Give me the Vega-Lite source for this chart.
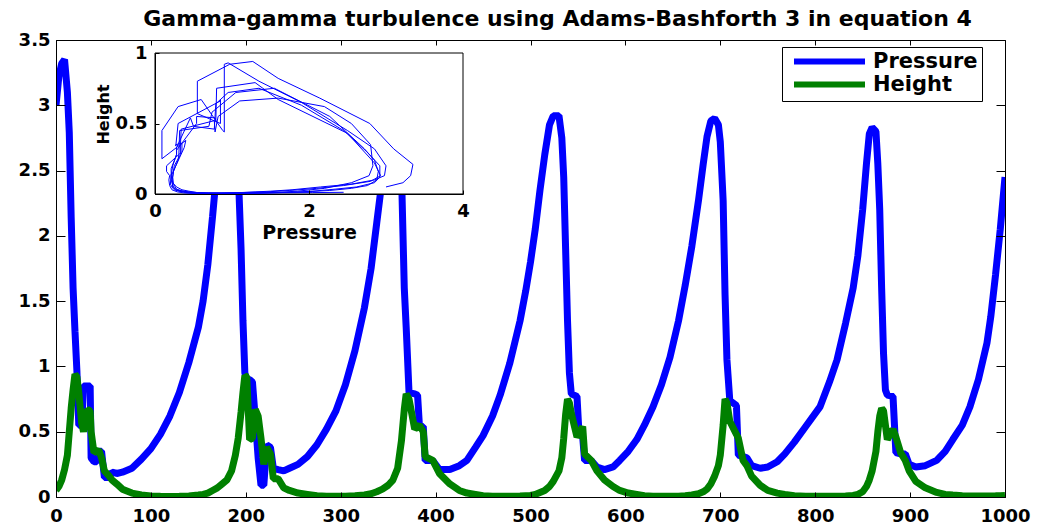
{
  "$schema": "https://vega.github.io/schema/vega-lite/v6.json",
  "width": 949,
  "height": 457,
  "autosize": "none",
  "padding": {"left": 56, "top": 40, "right": 48, "bottom": 28},
  "background": "white",
  "title": {
    "text": "Gamma-gamma turbulence using Adams-Bashforth 3 in equation 4",
    "font": "DejaVu Sans", "fontSize": 22, "fontWeight": "bold", "color": "#000",
    "anchor": "middle", "dx": 27, "dy": 29, "baseline": "alphabetic", "offset": 12
  },
  "data": {"values": [
    {"t":0,"p":3.00,"h":0.05},{"t":3,"p":3.22,"h":0.08},{"t":6,"p":3.32,"h":0.13},{"t":9,"p":3.35,"h":0.21},
    {"t":12,"p":3.10,"h":0.32},{"t":14,"p":2.79,"h":0.50},{"t":16,"p":2.14,"h":0.68},{"t":18,"p":1.60,"h":0.82},
    {"t":20,"p":1.27,"h":0.94},{"t":22,"p":0.97,"h":0.92},{"t":24,"p":0.55,"h":0.80},{"t":27,"p":0.55,"h":0.57},
    {"t":29,"p":0.85,"h":0.50},{"t":33,"p":0.85,"h":0.67},{"t":36,"p":0.85,"h":0.66},{"t":37,"p":0.30,"h":0.50},
    {"t":40,"p":0.27,"h":0.34},{"t":43,"p":0.27,"h":0.35},{"t":45,"p":0.35,"h":0.36},{"t":48,"p":0.35,"h":0.30},
    {"t":51,"p":0.15,"h":0.20},{"t":56,"p":0.15,"h":0.16},{"t":59,"p":0.19,"h":0.13},{"t":64,"p":0.18,"h":0.10},
    {"t":70,"p":0.19,"h":0.06},{"t":80,"p":0.22,"h":0.03},{"t":90,"p":0.29,"h":0.015},{"t":100,"p":0.37,"h":0.008},
    {"t":110,"p":0.48,"h":0.005},{"t":120,"p":0.62,"h":0.004},{"t":130,"p":0.80,"h":0.005},{"t":140,"p":1.03,"h":0.008},
    {"t":150,"p":1.30,"h":0.015},{"t":155,"p":1.50,"h":0.02},{"t":160,"p":1.78,"h":0.03},{"t":165,"p":2.15,"h":0.05},
    {"t":170,"p":2.55,"h":0.07},{"t":175,"p":2.85,"h":0.10},{"t":180,"p":2.98,"h":0.13},{"t":185,"p":3.00,"h":0.20},
    {"t":189,"p":2.85,"h":0.32},{"t":192,"p":2.50,"h":0.45},{"t":195,"p":1.90,"h":0.65},{"t":197,"p":1.35,"h":0.80},
    {"t":199,"p":0.95,"h":0.93},{"t":201,"p":0.90,"h":0.92},{"t":204,"p":0.90,"h":0.44},{"t":207,"p":0.88,"h":0.45},
    {"t":210,"p":0.60,"h":0.67},{"t":213,"p":0.30,"h":0.62},{"t":216,"p":0.09,"h":0.45},{"t":219,"p":0.09,"h":0.25},
    {"t":222,"p":0.40,"h":0.38},{"t":226,"p":0.38,"h":0.33},{"t":229,"p":0.22,"h":0.14},{"t":234,"p":0.21,"h":0.14},
    {"t":240,"p":0.20,"h":0.07},{"t":246,"p":0.22,"h":0.05},{"t":255,"p":0.25,"h":0.03},{"t":265,"p":0.31,"h":0.02},
    {"t":275,"p":0.40,"h":0.01},{"t":285,"p":0.52,"h":0.006},{"t":295,"p":0.66,"h":0.005},{"t":305,"p":0.86,"h":0.006},
    {"t":315,"p":1.12,"h":0.01},{"t":325,"p":1.45,"h":0.015},{"t":332,"p":1.75,"h":0.025},{"t":338,"p":2.10,"h":0.04},
    {"t":344,"p":2.45,"h":0.06},{"t":350,"p":2.80,"h":0.09},{"t":355,"p":2.93,"h":0.13},{"t":360,"p":2.85,"h":0.22},
    {"t":364,"p":2.50,"h":0.43},{"t":367,"p":1.60,"h":0.67},{"t":369,"p":1.30,"h":0.79},{"t":372,"p":0.80,"h":0.75},
    {"t":378,"p":0.79,"h":0.52},{"t":381,"p":0.78,"h":0.54},{"t":383,"p":0.54,"h":0.55},{"t":387,"p":0.54,"h":0.50},
    {"t":389,"p":0.28,"h":0.31},{"t":397,"p":0.28,"h":0.28},{"t":404,"p":0.21,"h":0.18},{"t":415,"p":0.21,"h":0.10},
    {"t":425,"p":0.24,"h":0.05},{"t":433,"p":0.28,"h":0.03},{"t":442,"p":0.38,"h":0.02},{"t":450,"p":0.47,"h":0.01},
    {"t":460,"p":0.62,"h":0.006},{"t":468,"p":0.78,"h":0.005},{"t":478,"p":1.02,"h":0.005},{"t":489,"p":1.35,"h":0.007},
    {"t":495,"p":1.58,"h":0.01},{"t":500,"p":1.80,"h":0.012},{"t":505,"p":2.05,"h":0.02},{"t":510,"p":2.35,"h":0.035},
    {"t":515,"p":2.62,"h":0.05},{"t":520,"p":2.85,"h":0.08},{"t":524,"p":2.92,"h":0.12},{"t":530,"p":2.92,"h":0.20},
    {"t":533,"p":2.75,"h":0.30},{"t":535,"p":2.45,"h":0.45},{"t":537,"p":1.90,"h":0.63},{"t":539,"p":1.35,"h":0.75},
    {"t":541,"p":0.95,"h":0.72},{"t":543,"p":0.79,"h":0.64},{"t":549,"p":0.77,"h":0.46},{"t":551,"p":0.50,"h":0.48},
    {"t":555,"p":0.46,"h":0.54},{"t":557,"p":0.28,"h":0.33},{"t":564,"p":0.28,"h":0.28},{"t":570,"p":0.23,"h":0.20},
    {"t":578,"p":0.21,"h":0.13},{"t":587,"p":0.23,"h":0.08},{"t":594,"p":0.28,"h":0.05},{"t":603,"p":0.35,"h":0.03},
    {"t":612,"p":0.44,"h":0.02},{"t":620,"p":0.55,"h":0.01},{"t":629,"p":0.69,"h":0.006},{"t":638,"p":0.86,"h":0.005},
    {"t":647,"p":1.07,"h":0.005},{"t":656,"p":1.35,"h":0.006},{"t":663,"p":1.62,"h":0.01},{"t":670,"p":1.92,"h":0.015},
    {"t":677,"p":2.27,"h":0.025},{"t":682,"p":2.55,"h":0.04},{"t":686,"p":2.76,"h":0.06},{"t":690,"p":2.88,"h":0.10},
    {"t":694,"p":2.90,"h":0.16},{"t":698,"p":2.85,"h":0.24},{"t":700,"p":2.72,"h":0.32},{"t":703,"p":2.27,"h":0.55},
    {"t":705,"p":1.55,"h":0.75},{"t":707,"p":1.05,"h":0.72},{"t":710,"p":0.74,"h":0.58},{"t":717,"p":0.70,"h":0.48},
    {"t":719,"p":0.32,"h":0.45},{"t":724,"p":0.31,"h":0.28},{"t":728,"p":0.30,"h":0.24},{"t":733,"p":0.24,"h":0.16},
    {"t":742,"p":0.22,"h":0.09},{"t":750,"p":0.23,"h":0.05},{"t":760,"p":0.27,"h":0.03},{"t":768,"p":0.33,"h":0.02},
    {"t":778,"p":0.42,"h":0.01},{"t":790,"p":0.54,"h":0.006},{"t":805,"p":0.69,"h":0.005},{"t":815,"p":0.88,"h":0.005},
    {"t":823,"p":1.05,"h":0.006},{"t":832,"p":1.33,"h":0.008},{"t":840,"p":1.60,"h":0.012},{"t":845,"p":1.85,"h":0.02},
    {"t":850,"p":2.20,"h":0.04},{"t":854,"p":2.55,"h":0.08},{"t":857,"p":2.78,"h":0.13},{"t":860,"p":2.83,"h":0.20},
    {"t":864,"p":2.80,"h":0.35},{"t":866,"p":2.55,"h":0.50},{"t":868,"p":2.20,"h":0.62},{"t":870,"p":1.60,"h":0.68},
    {"t":872,"p":1.10,"h":0.66},{"t":874,"p":0.82,"h":0.55},{"t":876,"p":0.78,"h":0.44},{"t":882,"p":0.77,"h":0.52},
    {"t":885,"p":0.34,"h":0.46},{"t":890,"p":0.33,"h":0.34},{"t":895,"p":0.33,"h":0.28},{"t":899,"p":0.25,"h":0.20},
    {"t":906,"p":0.23,"h":0.12},{"t":916,"p":0.24,"h":0.07},{"t":928,"p":0.28,"h":0.035},{"t":937,"p":0.35,"h":0.02},
    {"t":945,"p":0.44,"h":0.015},{"t":955,"p":0.55,"h":0.01},{"t":963,"p":0.69,"h":0.008},{"t":972,"p":0.90,"h":0.007},
    {"t":981,"p":1.18,"h":0.007},{"t":985,"p":1.38,"h":0.008},{"t":990,"p":1.70,"h":0.009},{"t":995,"p":2.05,"h":0.01},
    {"t":1000,"p":2.45,"h":0.012}
  ]},
  "layer": [
    {
      "mark": {"type": "line", "strokeWidth": 7, "clip": true, "strokeJoin": "bevel"},
      "encoding": {
        "x": {"field": "t", "type": "quantitative",
          "scale": {"domain": [0, 1000], "nice": false, "zero": false},
          "axis": {"orient": "bottom", "title": null, "values": [0,100,200,300,400,500,600,700,800,900,1000], "format": "d", "tickSize": -5, "labelPadding": 15, "zindex": 1}},
        "y": {"field": "p", "type": "quantitative",
          "scale": {"domain": [0, 3.5], "nice": false},
          "axis": {"orient": "left", "title": null, "values": [0,0.5,1,1.5,2,2.5,3,3.5], "format": "~g", "tickSize": -9, "labelPadding": 15, "zindex": 1}},
        "color": {"datum": "Pressure", "type": "nominal",
          "scale": {"domain": ["Pressure", "Height"], "range": ["#0000ff", "#008000"]},
          "legend": {"orient": "none", "legendX": 726, "legendY": 7, "title": null,
            "symbolType": "M-7.1,0H7.1", "symbolSize": 100, "symbolStrokeWidth": 6,
            "labelFont": "DejaVu Sans", "labelFontWeight": "bold", "labelFontSize": 21, "labelColor": "#000",
            "strokeColor": "#000", "fillColor": "#fff", "padding": 4, "rowPadding": -4,
            "labelOffset": 33, "symbolOffset": 33, "cornerRadius": 0}}
      }
    },
    {
      "mark": {"type": "line", "strokeWidth": 7, "clip": true, "strokeJoin": "bevel"},
      "encoding": {
        "x": {"field": "t", "type": "quantitative",
          "scale": {"domain": [0, 1000], "nice": false, "zero": false},
          "axis": {"orient": "top", "title": null, "values": [0,100,200,300,400,500,600,700,800,900,1000], "labels": false, "domain": false, "tickSize": -5, "zindex": 1}},
        "y": {"field": "h", "type": "quantitative",
          "scale": {"domain": [0, 3.5], "nice": false},
          "axis": {"orient": "right", "title": null, "values": [0,0.5,1,1.5,2,2.5,3,3.5], "labels": false, "domain": false, "tickSize": -9, "zindex": 1}},
        "color": {"datum": "Height", "type": "nominal"}
      }
    },
    {
      "layer": [
        {
          "data": {"values": [{}]},
          "mark": {"type": "rect", "fill": "#ffffff", "stroke": "#000", "strokeWidth": 1},
          "encoding": {
            "x": {"datum": 0, "type": "quantitative",
              "scale": {"domain": [0, 4], "range": [99, 407], "nice": false, "zero": false},
              "axis": {"orient": "bottom", "offset": -303, "title": "Pressure", "titleFontSize": 19, "titlePadding": 3, "values": [0, 2, 4], "format": "~g", "tickSize": -4, "labelPadding": 12, "zindex": 2}},
            "x2": {"datum": 4},
            "y": {"datum": 0, "type": "quantitative",
              "scale": {"domain": [0, 1], "range": [154, 13], "nice": false, "zero": false},
              "axis": {"orient": "left", "offset": -99, "title": "Height", "titleFontSize": 16, "titlePadding": 4, "titleY": 74, "values": [0, 0.5, 1], "format": "~g", "tickSize": -4, "labelPadding": 12, "zindex": 2}},
            "y2": {"datum": 1}
          }
        },
        {
          "mark": {"type": "line", "strokeWidth": 1, "color": "#0000ff"},
          "encoding": {
            "x": {"field": "p", "type": "quantitative",
              "scale": {"domain": [0, 4], "range": [99, 407], "nice": false, "zero": false},
              "axis": {"orient": "bottom", "offset": -303, "title": "Pressure", "titleFontSize": 19, "titlePadding": 3, "values": [0, 2, 4], "format": "~g", "tickSize": -4, "labelPadding": 12, "zindex": 2}},
            "y": {"field": "h", "type": "quantitative",
              "scale": {"domain": [0, 1], "range": [154, 13], "nice": false, "zero": false},
              "axis": {"orient": "left", "offset": -99, "title": "Height", "titleFontSize": 16, "titlePadding": 4, "titleY": 74, "values": [0, 0.5, 1], "format": "~g", "tickSize": -4, "labelPadding": 12, "zindex": 2}},
            "order": {"field": "t", "type": "quantitative"}
          }
        }
      ]
    }
  ],
  "resolve": {
    "scale": {"x": "independent", "y": "independent"},
    "axis": {"x": "independent", "y": "independent"}
  },
  "config": {
    "view": {"stroke": "#000", "strokeWidth": 1},
    "axis": {
      "grid": false, "labelFlush": false,
      "labelFont": "DejaVu Sans", "labelFontWeight": "bold", "labelFontSize": 18, "labelColor": "#000",
      "titleFont": "DejaVu Sans", "titleFontWeight": "bold", "titleColor": "#000",
      "tickColor": "#000", "domainColor": "#000", "tickWidth": 1, "domainWidth": 1
    }
  }
}
